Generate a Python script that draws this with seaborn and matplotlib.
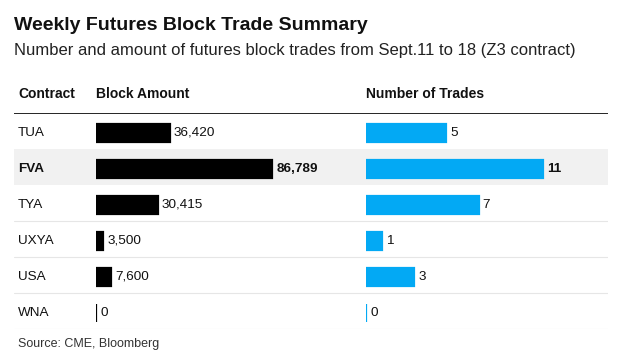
import numpy as np
import pandas as pd
import matplotlib
matplotlib.use("Agg")
import matplotlib.pyplot as plt
import seaborn as sns

contracts = ["TUA", "FVA", "TYA", "UXYA", "USA", "WNA"]
block_amount = [36420, 86789, 30415, 3500, 7600, 0]
num_trades = [5, 11, 7, 1, 3, 0]
highlight = "FVA"

title = "Weekly Futures Block Trade Summary"
subtitle = "Number and amount of futures block trades from Sept.11 to 18 (Z3 contract)"
headers = ["Contract", "Block Amount", "Number of Trades"]
source = "Source: CME, Bloomberg"

df = pd.DataFrame({"contract": contracts, "amount": block_amount, "trades": num_trades})

sns.set_theme(style="white")
plt.rcParams["font.family"] = ["Liberation Sans", "DejaVu Sans"]

W, H = 620, 361
fig = plt.figure(figsize=(W / 100, H / 100), dpi=100)
fig.patch.set_facecolor("white")

def fx(px):
    return px / W

def fy(px):
    return 1 - px / H

n = len(contracts)
top_px, row_h = 113, 36
bot_px = top_px + row_h * n

# background/table axes
ax_bg = fig.add_axes([fx(14), fy(bot_px), fx(608) - fx(14), (bot_px - top_px) / H])
ax_bg.set_xlim(0, 1)
ax_bg.set_ylim(n - 0.5, -0.5)
ax_bg.axis("off")
hi = contracts.index(highlight)
ax_bg.axhspan(hi - 0.5, hi + 0.5, color="#f1f1f1", lw=0, zorder=0)
for i in range(n):
    if i != hi and i + 1 != hi:
        ax_bg.axhline(i + 0.5, color="#e6e6e6", lw=0.8, zorder=0)
ax_bg.axhline(-0.5, color="black", lw=1.2, zorder=1)
for i, c in enumerate(contracts):
    ax_bg.text(4 / 594, i + 0.05, c, va="center", ha="left", fontsize=9.7,
               fontweight="bold" if c == highlight else "normal", color="#111111")

blue = "#03a9f4"

def bar_axes(left_px, width_px, col, color, scale_px, fmt):
    ax = fig.add_axes([fx(left_px), fy(bot_px), width_px / W, (bot_px - top_px) / H])
    ax.patch.set_alpha(0)
    vmax = df[col].max()
    sns.barplot(data=df, x=col, y="contract", orient="h", color=color, width=0.5,
                saturation=1, ax=ax, edgecolor=color, linewidth=1.6)
    ax.set_xlim(0, vmax * width_px / scale_px)
    ax.set_ylim(n - 0.5 - 0.05, -0.5 - 0.05)
    ax.axis("off")
    labels = [fmt(v) for v in df[col]]
    texts = ax.bar_label(ax.containers[0], labels=labels, padding=3, fontsize=9.7,
                         color="#111111")
    for t, c in zip(texts, contracts):
        if c == highlight:
            t.set_fontweight("bold")
    return ax

bar_axes(96, 250, "amount", "black", 176, lambda v: f"{v:,}")
bar_axes(366, 242, "trades", blue, 177, lambda v: f"{v:,}")

fig.text(fx(14), fy(25), title, fontsize=14, fontweight="bold", va="center", ha="left", color="#111111")
fig.text(fx(14), fy(51), subtitle, fontsize=12, va="center", ha="left", color="#222222")
fig.text(fx(18), fy(94), headers[0], fontsize=10, fontweight="bold", va="center", ha="left", color="#111111")
fig.text(fx(96), fy(94), headers[1], fontsize=10, fontweight="bold", va="center", ha="left", color="#111111")
fig.text(fx(366), fy(94), headers[2], fontsize=10, fontweight="bold", va="center", ha="left", color="#111111")
fig.text(fx(18), fy(344), source, fontsize=9, va="center", ha="left", color="#333333")

fig.savefig("out.png", dpi=100, facecolor="white")
